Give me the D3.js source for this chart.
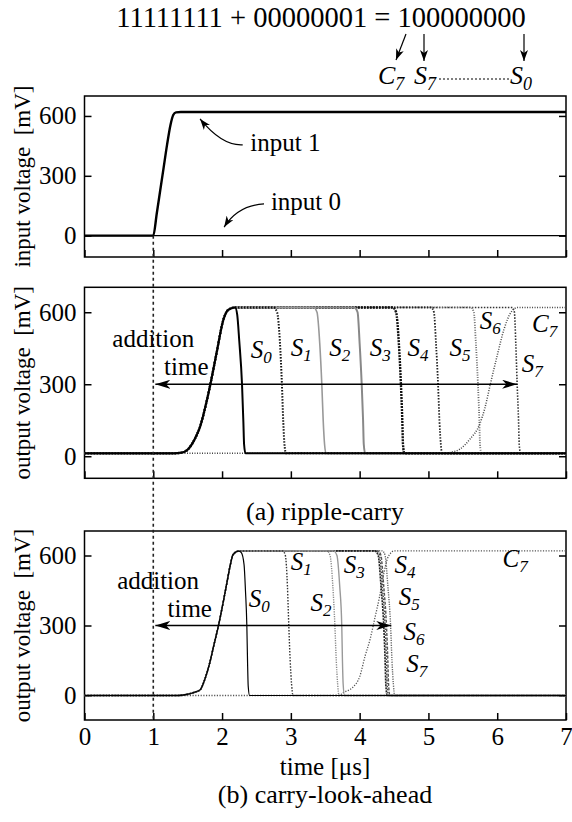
<!DOCTYPE html>
<html>
<head>
<meta charset="utf-8">
<script src="https://cdn.jsdelivr.net/npm/d3@7"></script>
<style>
  body { margin: 0; background: #fff; }
  svg { font-family: "Liberation Serif", "Times New Roman", serif; }
</style>
</head>
<body>
<svg id="chart" width="572" height="822"></svg>
<script>
// ---- data (time in µs, voltage in mV) ----
const timeTicks = [0, 1, 2, 3, 4, 5, 6, 7];
const voltTicks = [0, 300, 600];

// (top) input voltages
const input1 = [[0, 0], [1.0, 0], [1.05, 110], [1.10, 225], [1.15, 340], [1.20, 455], [1.25, 555], [1.29, 605], [1.33, 618], [1.40, 620], [7, 620]];
const input0 = [[0, 0], [7, 0]];

// (a) ripple-carry: shared rise of all sum bits, then each bit's fall
const rippleRise = [[0, 12], [1.3, 12], [1.4, 14], [1.49, 25], [1.6, 70], [1.68, 123], [1.78, 234], [1.83, 300], [1.92, 430], [2.02, 570], [2.09, 610], [2.19, 620]];
const rippleFall = [
  [[2.22, 590], [2.25, 480], [2.29, 300], [2.31, 140], [2.32, 50], [2.34, 12], [7, 12]],
  [[2.75, 620], [2.80, 600], [2.84, 480], [2.87, 300], [2.89, 140], [2.91, 40], [2.93, 12], [7, 12]],
  [[3.33, 620], [3.38, 600], [3.42, 470], [3.45, 300], [3.47, 150], [3.49, 50], [3.51, 12], [7, 12]],
  [[3.92, 620], [3.97, 600], [4.00, 470], [4.03, 300], [4.05, 150], [4.06, 50], [4.08, 12], [7, 12]],
  [[4.48, 620], [4.53, 600], [4.57, 470], [4.60, 300], [4.62, 150], [4.63, 50], [4.65, 12], [7, 12]],
  [[5.04, 620], [5.08, 600], [5.11, 470], [5.14, 300], [5.16, 150], [5.18, 50], [5.20, 12], [7, 12]],
  [[5.62, 620], [5.66, 600], [5.69, 470], [5.72, 300], [5.74, 150], [5.75, 50], [5.77, 12], [7, 12]],
  [[6.22, 620], [6.25, 600], [6.27, 470], [6.29, 300], [6.31, 150], [6.32, 50], [6.34, 12], [7, 12]]
];
const rippleC7 = [[0, 12], [5.2, 12], [5.35, 18], [5.46, 30], [5.6, 70], [5.75, 137], [5.82, 200], [5.9, 300], [6.0, 420], [6.1, 530], [6.2, 600], [6.25, 615], [6.3, 620], [7, 620]];
const rippleAddTime = [1.03, 6.29];

// (b) carry-look-ahead
const claRise = [[0, 0], [1.35, 0], [1.49, 5], [1.6, 14], [1.68, 24], [1.75, 70], [1.82, 139], [1.88, 215], [1.945, 296], [2.01, 390], [2.07, 483], [2.12, 560], [2.16, 604], [2.24, 619]];
const claFall = [
  [[2.28, 612], [2.32, 560], [2.34, 450], [2.36, 300], [2.37, 150], [2.38, 40], [2.40, 0], [7, 0]],
  [[2.88, 620], [2.92, 600], [2.95, 470], [2.97, 300], [2.99, 150], [3.01, 50], [3.03, 0], [7, 0]],
  [[3.52, 620], [3.57, 600], [3.61, 470], [3.64, 300], [3.66, 150], [3.68, 50], [3.70, 0], [7, 0]],
  [[3.62, 620], [3.67, 600], [3.71, 470], [3.74, 300], [3.75, 150], [3.76, 50], [3.78, 0], [7, 0]],
  [[4.22, 620], [4.27, 600], [4.31, 470], [4.35, 300], [4.37, 150], [4.38, 50], [4.40, 0], [7, 0]],
  [[4.25, 620], [4.29, 600], [4.33, 470], [4.37, 300], [4.39, 150], [4.40, 50], [4.42, 0], [7, 0]],
  [[4.27, 620], [4.31, 600], [4.35, 470], [4.39, 300], [4.41, 150], [4.42, 50], [4.44, 0], [7, 0]],
  [[4.33, 620], [4.37, 600], [4.41, 470], [4.45, 300], [4.47, 150], [4.49, 50], [4.51, 0], [7, 0]]
];
const claC7 = [[0, 0], [3.7, 0], [3.76, 12], [3.9, 35], [4.0, 80], [4.08, 170], [4.15, 239], [4.22, 330], [4.29, 424], [4.35, 520], [4.4, 583], [4.45, 610], [4.5, 620], [7, 620]];
const claAddTime = [1.03, 4.46];

// signal labels: [letter, subscript, time, mV] (baseline of the letter)
const rippleLabels = [['S', '0', 2.57, 409], ['S', '1', 3.15, 417], ['S', '2', 3.71, 417], ['S', '3', 4.30, 417],
  ['S', '4', 4.85, 417], ['S', '5', 5.46, 417], ['S', '6', 5.90, 530], ['S', '7', 6.51, 351], ['C', '7', 6.69, 517]];
const claLabels = [['S', '0', 2.54, 379], ['S', '1', 3.15, 538], ['S', '2', 3.44, 362], ['S', '3', 3.92, 525],
  ['S', '4', 4.66, 524], ['S', '5', 4.72, 388], ['S', '6', 4.79, 238], ['S', '7', 4.83, 102], ['C', '7', 6.26, 551]];

// ---- drawing ----
const svg = d3.select('#chart');
const defs = svg.append('defs');

function marker(id, len, half) {
  defs.append('marker')
    .attr('id', id)
    .attr('viewBox', `${-len} ${-half} ${len} ${half * 2}`)
    .attr('refX', 0).attr('refY', 0)
    .attr('markerWidth', len).attr('markerHeight', half * 2)
    .attr('markerUnits', 'userSpaceOnUse')
    .attr('orient', 'auto-start-reverse')
    .append('path')
    .attr('d', `M0,0L${-len},${-half}L${-len * 0.72},0L${-len},${half}Z`)
    .attr('fill', '#000');
}
marker('headBig', 15, 4.5);
marker('headSmall', 11, 4);

const x = d3.scaleLinear().domain([0, 7]).range([84.5, 566]);

const panels = [
  { top: 96, bottom: 257, domain: [-107, 700], title: 'input voltage  [mV]' },
  { top: 287.3, bottom: 478.3, domain: [-92, 704], title: 'output voltage  [mV]' },
  { top: 531, bottom: 720, domain: [-105, 705], title: 'output voltage  [mV]' }
];
panels.forEach(p => { p.y = d3.scaleLinear().domain(p.domain).range([p.bottom, p.top]); });

panels.forEach((p, i) => {
  const g = svg.append('g');
  defs.append('clipPath').attr('id', 'clip' + i)
    .append('rect').attr('x', x(0)).attr('y', p.top).attr('width', x(7) - x(0)).attr('height', p.bottom - p.top);

  g.append('g')
    .attr('transform', `translate(${x(0)},0)`)
    .call(d3.axisLeft(p.y).tickValues(voltTicks).tickSizeInner(-7).tickSizeOuter(0).tickPadding(8))
    .attr('font-family', null).attr('font-size', 25)
    .call(a => a.select('.domain').remove());

  g.append('g')
    .attr('transform', `translate(${x(7)},0)`)
    .call(d3.axisRight(p.y).tickValues(voltTicks).tickSizeInner(-7).tickSizeOuter(0).tickFormat(''))
    .call(a => a.select('.domain').remove());

  g.append('g')
    .attr('transform', `translate(0,${p.bottom})`)
    .call(d3.axisBottom(x).tickValues(timeTicks).tickSizeInner(-7).tickSizeOuter(0).tickPadding(7)
      .tickFormat(i === 2 ? d3.format('d') : ''))
    .attr('font-family', null).attr('font-size', 25)
    .call(a => a.select('.domain').remove());

  g.selectAll('.tick line').attr('stroke', '#000').attr('stroke-width', 1.5);
  g.selectAll('.tick text').attr('fill', '#000');

  g.append('rect')
    .attr('x', x(0)).attr('y', p.top).attr('width', x(7) - x(0)).attr('height', p.bottom - p.top)
    .attr('fill', 'none').attr('stroke', '#000').attr('stroke-width', 1.5);

  g.append('text')
    .attr('transform', `translate(22,${(p.top + p.bottom) / 2}) rotate(-90)`)
    .attr('text-anchor', 'middle').attr('dy', '0.35em')
    .attr('font-size', 23).style('white-space', 'pre')
    .text(p.title);

  p.plot = svg.append('g').attr('clip-path', `url(#clip${i})`);
});

function drawLine(p, data, color, width, dash) {
  const line = d3.line().x(d => x(d[0])).y(d => p.y(d[1])).curve(d3.curveMonotoneX);
  p.plot.append('path')
    .datum(data)
    .attr('d', line)
    .attr('fill', 'none')
    .attr('stroke', color)
    .attr('stroke-width', width)
    .attr('stroke-dasharray', dash)
    .attr('stroke-linejoin', 'round');
}

// top panel
const pIn = panels[0];
drawLine(pIn, input0, '#000', 1.4, null);
drawLine(pIn, input1, '#000', 2.4, null);

// ripple-carry panel
const pR = panels[1];
const rippleStyle = [
  ['#000', 2, null], ['#111', 2, '1.5,1.5'], ['#999', 1.6, null], ['#888', 2, null],
  ['#111', 2.4, '2,1'], ['#222', 1.8, '1.5,1.5'], ['#666', 1.8, '1,1.5'], ['#333', 1.6, '1.5,1.5']
];
drawLine(pR, rippleC7, '#444', 1.5, '1,1.5');
for (let b = 7; b >= 0; b--) {
  const s = rippleStyle[b];
  drawLine(pR, rippleRise.concat(rippleFall[b]), s[0], s[1], s[2]);
}

// carry-look-ahead panel
const pC = panels[2];
const claStyle = [
  ['#000', 1.2, null], ['#333', 1.4, '1.5,1.5'], ['#888', 1.4, '1.2,1.2'], ['#999', 1.4, null],
  ['#222', 1.6, '2,1'], ['#444', 1.4, '1.5,1.5'], ['#555', 1.4, '3,1.5'], ['#666', 1.4, '1.2,1.2']
];
drawLine(pC, claC7, '#555', 1.3, '1.2,1.5');
for (let b = 7; b >= 0; b--) {
  const s = claStyle[b];
  drawLine(pC, claRise.concat(claFall[b]), s[0], s[1], s[2]);
}

// dotted marker of input start (t = 1 µs)
svg.append('line')
  .attr('x1', x(1)).attr('x2', x(1))
  .attr('y1', pIn.y(0)).attr('y2', pC.bottom)
  .attr('stroke', '#222').attr('stroke-width', 1.6).attr('stroke-dasharray', '3,3');

// input annotations
function curvedArrow(p, from, ctrl, to) {
  const path = d3.path();
  path.moveTo(x(from[0]), p.y(from[1]));
  path.quadraticCurveTo(x(ctrl[0]), p.y(ctrl[1]), x(to[0]), p.y(to[1]));
  svg.append('path').attr('d', path.toString())
    .attr('fill', 'none').attr('stroke', '#000').attr('stroke-width', 1.2)
    .attr('marker-end', 'url(#headSmall)');
}
svg.append('text').attr('x', x(2.41)).attr('y', pIn.y(424)).attr('font-size', 25).text('input 1');
svg.append('text').attr('x', x(2.71)).attr('y', pIn.y(129)).attr('font-size', 25).text('input 0');
curvedArrow(pIn, [2.30, 455], [2.0, 449], [1.68, 585]);
curvedArrow(pIn, [2.61, 159], [2.23, 152], [2.03, 43]);

// addition-time arrows and labels
function additionTime(p, span, addT, addY, timeT, timeY) {
  svg.append('line')
    .attr('x1', x(span[0])).attr('x2', x(span[1]))
    .attr('y1', p.y(300)).attr('y2', p.y(300))
    .attr('stroke', '#000').attr('stroke-width', 1.3)
    .attr('marker-start', 'url(#headBig)').attr('marker-end', 'url(#headBig)');
  svg.append('text').attr('x', x(addT)).attr('y', p.y(addY)).attr('text-anchor', 'middle')
    .attr('font-size', 25).text('addition');
  svg.append('text').attr('x', x(timeT)).attr('y', p.y(timeY)).attr('text-anchor', 'middle')
    .attr('font-size', 25).text('time');
}
additionTime(pR, rippleAddTime, 1.0, 455, 1.48, 338);
additionTime(pC, claAddTime, 1.07, 457, 1.53, 336);

function signalLabels(p, labels) {
  labels.forEach(l => {
    const t = svg.append('text')
      .attr('x', x(l[2])).attr('y', p.y(l[3]))
      .attr('text-anchor', 'middle').attr('font-style', 'italic').attr('font-size', 25);
    t.append('tspan').text(l[0]);
    t.append('tspan').attr('font-size', 17).attr('dy', 5).text(l[1]);
  });
}
signalLabels(pR, rippleLabels);
signalLabels(pC, claLabels);

// captions and x title
svg.append('text').attr('x', 325).attr('y', 511).attr('dy', '0.35em').attr('text-anchor', 'middle')
  .attr('font-size', 26).text('(a) ripple-carry');
svg.append('text').attr('x', 325).attr('y', 766).attr('dy', '0.35em').attr('text-anchor', 'middle')
  .attr('font-size', 25).text('time [\u03bcs]');
svg.append('text').attr('x', 325).attr('y', 794).attr('dy', '0.35em').attr('text-anchor', 'middle')
  .attr('font-size', 26).text('(b) carry-look-ahead');

// equation header with bit arrows
svg.append('text').attr('x', 321).attr('y', 27).attr('text-anchor', 'middle')
  .attr('font-size', 28.5).text('11111111 + 00000001 = 100000000');
const hdrArrow = (x1, y1, x2, y2) => svg.append('line')
  .attr('x1', x1).attr('y1', y1).attr('x2', x2).attr('y2', y2)
  .attr('stroke', '#000').attr('stroke-width', 1.2).attr('marker-end', 'url(#headSmall)');
hdrArrow(406, 34, 396, 60);
hdrArrow(424, 34, 424, 61);
hdrArrow(524, 34, 524, 61);
svg.append('line').attr('x1', 439).attr('x2', 509).attr('y1', 79).attr('y2', 79)
  .attr('stroke', '#000').attr('stroke-width', 1).attr('stroke-dasharray', '2,2');
[['C', '7', 378], ['S', '7', 414], ['S', '0', 510]].forEach(l => {
  const t = svg.append('text').attr('x', l[2]).attr('y', 84)
    .attr('font-style', 'italic').attr('font-size', 26);
  t.append('tspan').text(l[0]);
  t.append('tspan').attr('font-size', 18).attr('dy', 6).text(l[1]);
});
</script>
</body>
</html>
